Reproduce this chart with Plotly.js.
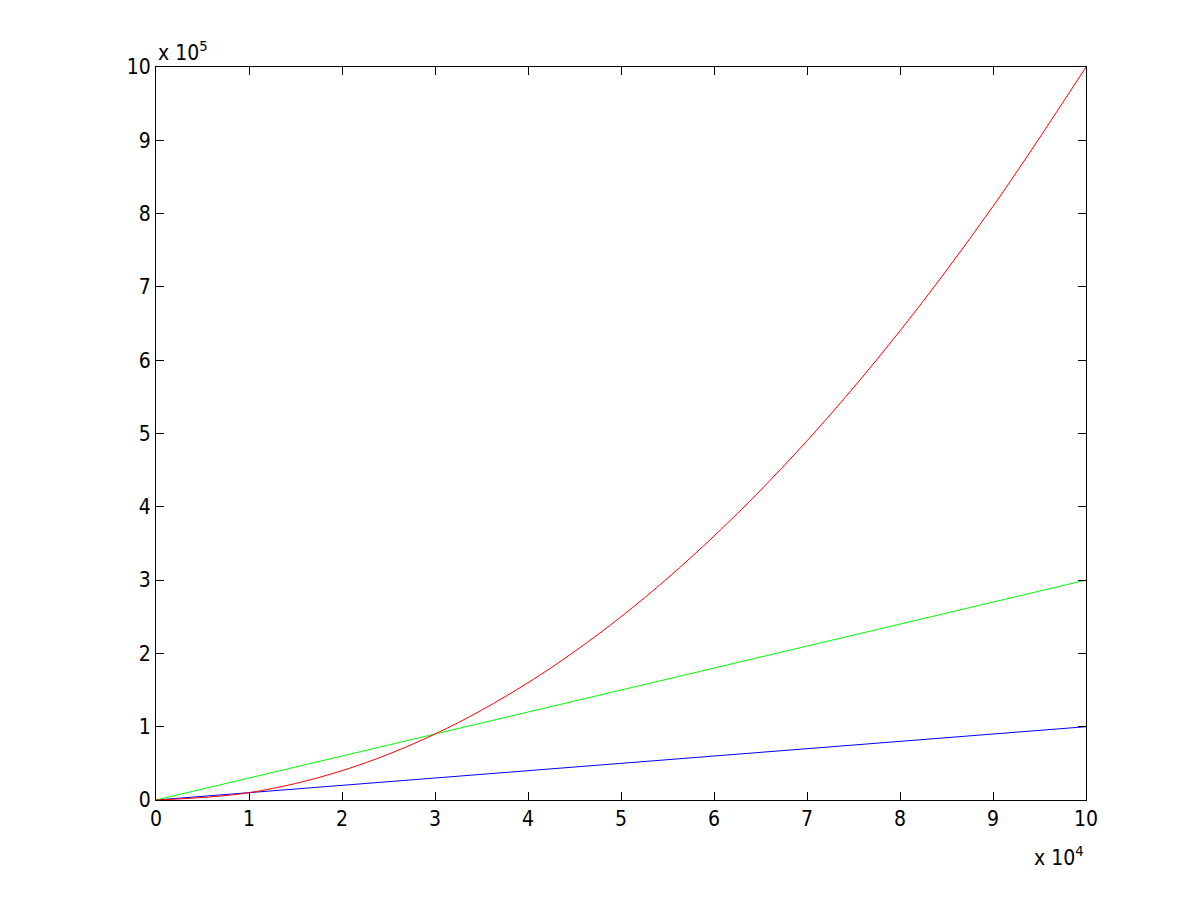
<!DOCTYPE html>
<html>
<head>
<meta charset="utf-8">
<script src="https://cdn.plot.ly/plotly-3.0.1.min.js"></script>
<style>body{margin:0;background:#fff;}#chart{width:1200px;height:900px;}</style>
</head>
<body>
<div id="chart"></div>
<script>
// x values (units of 1)
const xVals = [0, 10000, 20000, 30000, 40000, 50000, 60000, 70000, 80000, 90000, 100000];
const blueVals = [0, 10000, 20000, 30000, 40000, 50000, 60000, 70000, 80000, 90000, 100000];
const greenVals = [0, 30000, 60000, 90000, 120000, 150000, 180000, 210000, 240000, 270000, 300000];
const redVals = [0, 10000, 40000, 90000, 160000, 250000, 360000, 490000, 640000, 810000, 1000000];
const xTickVals = [0, 10000, 20000, 30000, 40000, 50000, 60000, 70000, 80000, 90000, 100000];
const xTickText = ['0','1','2','3','4','5','6','7','8','9','10'];
const yTickVals = [0, 100000, 200000, 300000, 400000, 500000, 600000, 700000, 800000, 900000, 1000000];
const yTickText = ['0','1','2','3','4','5','6','7','8','9','10'];

const FONT = 'Liberation Sans Narrow, DejaVu Sans Condensed, Liberation Sans, sans-serif';

const traces = [
  {x: xVals, y: blueVals, mode: 'lines', line: {color: '#0000ff', width: 1}, hoverinfo: 'none'},
  {x: xVals, y: greenVals, mode: 'lines', line: {color: '#00ff00', width: 1}, hoverinfo: 'none'},
  {x: xVals, y: redVals, mode: 'lines', line: {color: '#ff0000', width: 1, shape: 'spline', smoothing: 1}, hoverinfo: 'none'}
];

const axisCommon = {
  showgrid: false, zeroline: false, showline: true, linecolor: '#000', linewidth: 1,
  mirror: 'allticks', ticks: 'inside', ticklen: 8, tickcolor: '#000', tickwidth: 1,
  tickfont: {family: FONT, size: 21, color: '#000'}, tickmode: 'array'
};

const layout = {
  width: 1200, height: 900,
  paper_bgcolor: '#fff', plot_bgcolor: '#fff',
  showlegend: false,
  margin: {l: 156, r: 114, t: 67, b: 100},
  xaxis: Object.assign({}, axisCommon, {range: [0, 100000], tickvals: xTickVals, ticktext: xTickText}),
  yaxis: Object.assign({}, axisCommon, {range: [0, 1000000], tickvals: yTickVals, ticktext: yTickText}),
  annotations: [
    {xref: 'paper', yref: 'paper', x: 0, y: 1, xanchor: 'left', yanchor: 'bottom', yshift: 0, showarrow: false,
     text: 'x 10<sup>5</sup>', font: {family: FONT, size: 21, color: '#000'}},
    {xref: 'paper', yref: 'paper', x: 1, y: 0, xanchor: 'right', yanchor: 'top', yshift: -40, showarrow: false,
     text: 'x 10<sup>4</sup>', font: {family: FONT, size: 21, color: '#000'}}
  ]
};

Plotly.newPlot('chart', traces, layout, {displayModeBar: false, staticPlot: true});
</script>
</body>
</html>
